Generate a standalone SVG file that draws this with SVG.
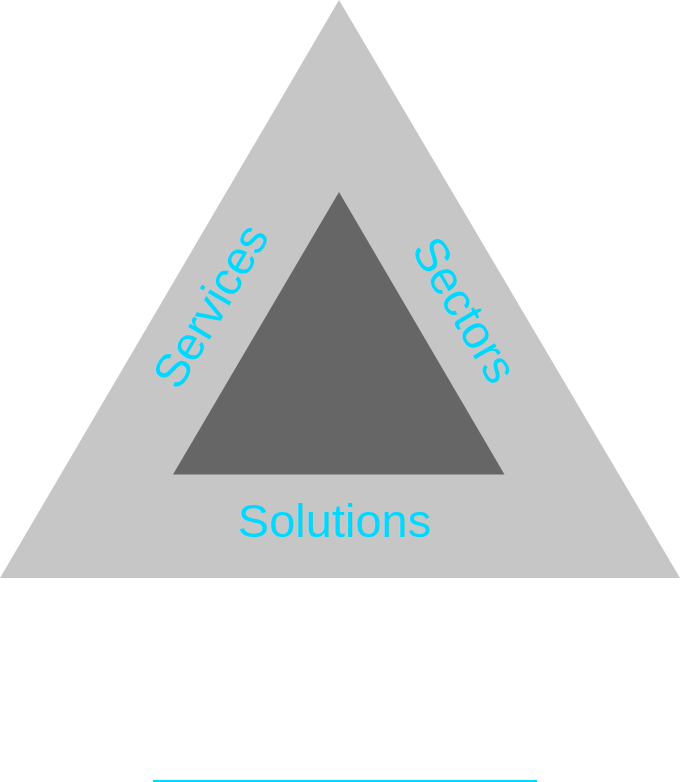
<svg xmlns="http://www.w3.org/2000/svg" width="680" height="782" viewBox="0 0 680 782">
<style>
.lbl{font-family:"Liberation Sans",Arial,sans-serif;font-size:47px;fill:#00D9FF;text-anchor:middle}
</style>
<rect width="680" height="782" fill="#FFFFFF"/>
<g id="outer"><polygon points="339,0 680,578 0,578" fill="#C6C6C6"/></g>
<g id="inner"><polygon points="339,192 504.5,474.5 173,474.5" fill="#666666"/></g>
<g id="labels">
<text class="lbl" transform="translate(224,314) rotate(-59.6)">Services</text>
<text class="lbl" transform="translate(450.5,318) rotate(59.6)">Sectors</text>
<text class="lbl" x="334" y="537">Solutions</text>
</g>
<g id="connectors"><line x1="153" y1="781" x2="537" y2="781" stroke="#00D9FF" stroke-width="2"/></g>
</svg>
